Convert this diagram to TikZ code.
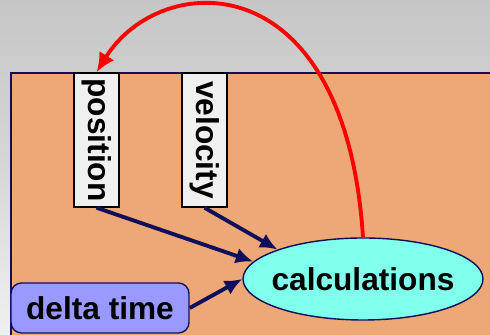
\documentclass[tikz,border=0pt]{standalone}
\usepackage{fontspec}
\setmainfont{Liberation Sans}
\usetikzlibrary{arrows.meta,shapes}

\definecolor{panelorange}{RGB}{238,168,120}
\definecolor{boxgray}{RGB}{240,240,240}
\definecolor{calccyan}{RGB}{128,255,236}
\definecolor{deltablue}{RGB}{153,153,255}
\definecolor{darknavy}{RGB}{16,16,90}
\definecolor{bgtop}{RGB}{198,198,198}
\definecolor{bgbottom}{RGB}{240,240,240}

\tikzset{
  varbox/.style={draw=black,thick,fill=boxgray,minimum width=.9cm,minimum height=2.68cm,inner sep=0pt},
  flow/.style={->,>={Latex[length=10pt,width=9pt]},line width=2.2pt,draw=darknavy},
  back/.style={->,>={Latex[length=11pt,width=10pt]},line width=2.2pt,draw=red}
}

\begin{document}
\begin{tikzpicture}[font=\fontsize{18}{20}\selectfont\bfseries]
\useasboundingbox (0,0) rectangle (9.8,6.7);
\clip (0,0) rectangle (9.8,6.7);
\shade[top color=bgtop,bottom color=bgbottom,middle color=bgtop!60!bgbottom] (0,0) rectangle (9.8,6.7);
\filldraw[fill=panelorange,draw=darknavy,thick] (.22,-.5) rectangle (10.3,5.24);
\node[varbox] (position) at (1.93,3.9) {\rotatebox{-90}{position}};
\node[varbox] (velocity) at (4.09,3.9) {\rotatebox{-90}{velocity}};
\node[draw=darknavy,thick,ellipse,fill=calccyan,inner sep=0pt,minimum width=4.8cm,minimum height=1.64cm] (calc) at (7.26,1.12) {\makebox[0pt]{calculations}};
\node[draw=darknavy,thick,rounded corners=6pt,fill=deltablue,minimum width=3.56cm,minimum height=1cm] (delta) at (2.0,.54) {delta time};
\draw[flow] (position.south) -- (calc.171);
\draw[flow] (velocity.south) -- (calc.161);
\draw[flow] (delta.east) -- (calc.west);
\draw[back] (calc.north) .. controls (6.9,7.5) and (3.2,7.3) .. (position.north);
\end{tikzpicture}
\end{document}
